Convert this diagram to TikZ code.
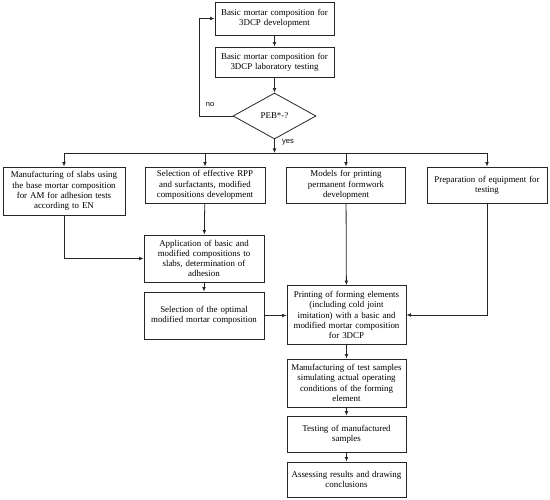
\documentclass[tikz,border=0pt]{standalone}
\usepackage{fontspec}
\setmainfont{Liberation Serif}
\newfontfamily\labfont{Liberation Sans}
\usetikzlibrary{shapes.geometric,arrows.meta}
\begin{document}
\begin{tikzpicture}[x=1pt,y=-1pt,
  box/.style={draw=black!85,line width=0.8pt,rectangle,align=center,inner sep=1pt,
    font=\fontsize{8.9}{10.2}\selectfont},
  arr/.style={draw=black!85,line width=0.8pt,-{Latex[length=4.5pt,width=3.8pt]}},
  ln/.style={draw=black!85,line width=0.8pt},
  lab/.style={font=\labfont\fontsize{7.5}{9}\selectfont,inner sep=0pt}]
\useasboundingbox (0,0) rectangle (550,500);
\node[box,minimum width=119pt,minimum height=33pt,text width=115pt] (n1) at (274.5,18.5) {Basic mortar composition for\\3DCP development};
\node[box,minimum width=119pt,minimum height=30pt,text width=115pt] (n2) at (274.5,62) {Basic mortar composition for\\3DCP laboratory testing};
\node[draw=black!85,line width=0.8pt,diamond,inner sep=0pt,minimum width=83pt,minimum height=46pt,aspect=1.8,font=\fontsize{8.9}{10.2}\selectfont] (dia) at (274.5,116) {PEB*-?};
\node[box,minimum width=122pt,minimum height=48pt,text width=118pt] (A) at (64,191) {Manufacturing of slabs using\\the base mortar composition\\for AM for adhesion tests\\according to EN};
\node[box,minimum width=120pt,minimum height=36pt,text width=116pt] (B) at (205,185) {Selection of effective RPP\\and surfactants, modified\\compositions development};
\node[box,minimum width=119pt,minimum height=36pt,text width=115pt] (C) at (346,185) {Models for printing\\permanent formwork\\development};
\node[box,minimum width=120pt,minimum height=36pt,text width=116pt] (D) at (487,185) {Preparation of equipment for\\testing};
\node[box,minimum width=120pt,minimum height=47pt,text width=116pt] (E) at (204,258.5) {Application of basic and\\modified compositions to\\slabs, determination of\\adhesion};
\node[box,minimum width=120pt,minimum height=47pt,text width=116pt] (F) at (204,315.5) {Selection of the optimal\\modified mortar composition};
\node[box,minimum width=119pt,minimum height=59pt,text width=115pt] (G) at (346.5,315) {Printing of forming elements\\(including cold joint\\imitation) with a basic and\\modified mortar composition\\for 3DCP};
\node[box,minimum width=119pt,minimum height=48pt,text width=115pt] (H) at (346.5,383) {Manufacturing of test samples\\simulating actual operating\\conditions of the forming\\element};
\node[box,minimum width=119pt,minimum height=36pt,text width=115pt] (I) at (346.5,434) {Testing of manufactured\\samples};
\node[box,minimum width=119pt,minimum height=35pt,text width=115pt] (J) at (346.5,479.5) {Assessing results and drawing\\conclusions};
\node[lab] (no) at (210,105) {no};
\node[lab] (yes) at (288,142) {yes};
\coordinate (loop) at (199,116);
\coordinate (bus) at (274.5,153);
\draw[arr] (n1) -- (n2);
\draw[arr] (n2) -- (dia);
\draw[ln] (dia.west) -- (loop);
\draw[arr] (loop) |- (n1.west);
\draw[arr] (dia.south) -- (bus);
\draw[ln] (bus -| A.north) -- (bus -| D.north);
\draw[arr] (bus -| A.north) -- (A.north);
\draw[arr] (bus -| B.north) -- (B.north);
\draw[arr] (bus -| C.north) -- (C.north);
\draw[arr] (bus -| D.north) -- (D.north);
\draw[arr] (A.south) |- (E.west);
\draw[arr] (B) -- (E);
\draw[arr] (E) -- (F);
\draw[arr] (F.east) -- (F.east -| G.west);
\draw[arr] (C) -- (G);
\draw[arr] (D.south) |- (G.east);
\draw[arr] (G) -- (H);
\draw[arr] (H) -- (I);
\draw[arr] (I) -- (J);
\end{tikzpicture}
\end{document}
